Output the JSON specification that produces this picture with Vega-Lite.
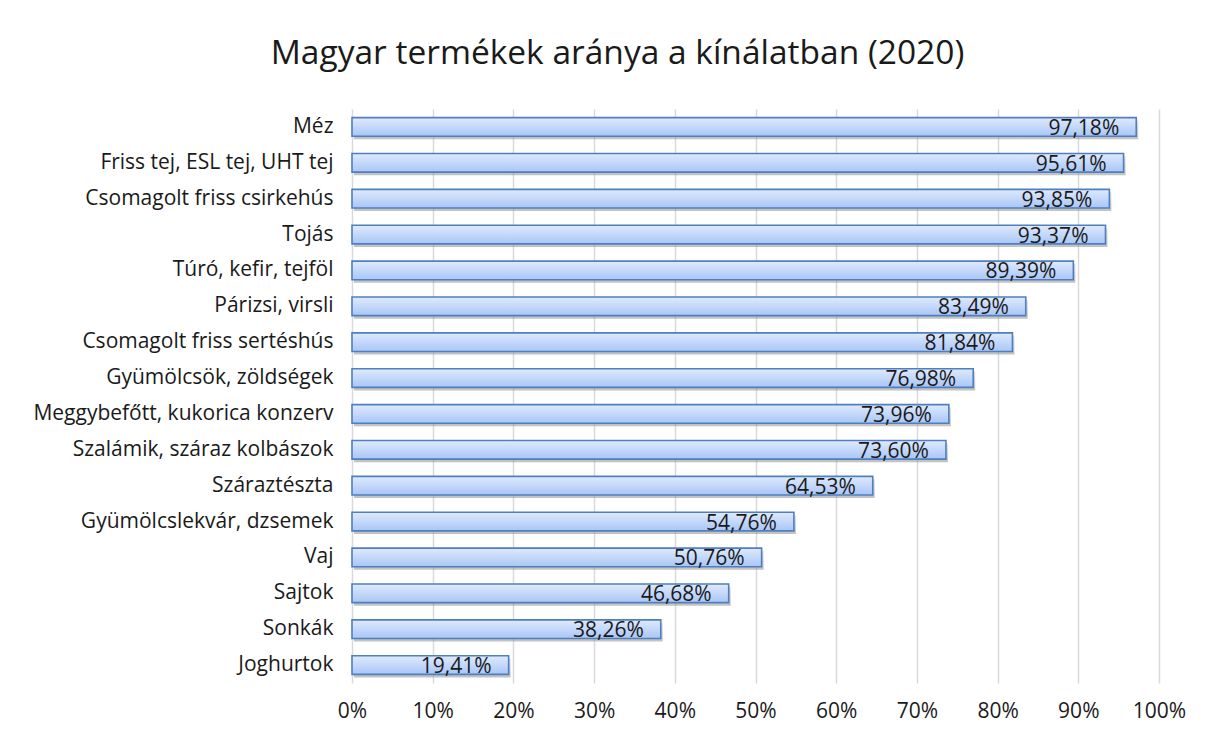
{
  "$schema": "https://vega.github.io/schema/vega-lite/v6.json",
  "autosize": "none",
  "width": 807,
  "height": 574,
  "padding": {"left": 352, "top": 109, "right": 49, "bottom": 54},
  "background": "white",
  "title": {
    "text": "Magyar termékek aránya a kínálatban (2020)",
    "anchor": "middle",
    "dx": -138,
    "offset": 38,
    "font": "Open Sans",
    "fontSize": 33.5,
    "fontWeight": "normal",
    "color": "#1a1a1a"
  },
  "data": {
    "values": [
      {"termek": "Méz", "arany": 0.9718},
      {"termek": "Friss tej, ESL tej, UHT tej", "arany": 0.9561},
      {"termek": "Csomagolt friss csirkehús", "arany": 0.9385},
      {"termek": "Tojás", "arany": 0.9337},
      {"termek": "Túró, kefir, tejföl", "arany": 0.8939},
      {"termek": "Párizsi, virsli", "arany": 0.8349},
      {"termek": "Csomagolt friss sertéshús", "arany": 0.8184},
      {"termek": "Gyümölcsök, zöldségek", "arany": 0.7698},
      {"termek": "Meggybefőtt, kukorica konzerv", "arany": 0.7396},
      {"termek": "Szalámik, száraz kolbászok", "arany": 0.736},
      {"termek": "Száraztészta", "arany": 0.6453},
      {"termek": "Gyümölcslekvár, dzsemek", "arany": 0.5476},
      {"termek": "Vaj", "arany": 0.5076},
      {"termek": "Sajtok", "arany": 0.4668},
      {"termek": "Sonkák", "arany": 0.3826},
      {"termek": "Joghurtok", "arany": 0.1941}
    ]
  },
  "encoding": {
    "y": {
      "field": "termek",
      "type": "nominal",
      "sort": {"field": "arany", "order": "descending"},
      "scale": {"paddingInner": 0.48, "paddingOuter": 0.24},
      "axis": {
        "title": null,
        "ticks": false,
        "domain": false,
        "labelPadding": 19,
        "labelFont": "Open Sans",
        "labelFontSize": 21,
        "labelColor": "#1a1a1a",
        "labelLimit": 400
      }
    },
    "x": {
      "field": "arany",
      "type": "quantitative",
      "scale": {"domain": [0, 1]},
      "axis": {
        "title": null,
        "format": ".0%",
        "values": [0, 0.1, 0.2, 0.3, 0.4, 0.5, 0.6, 0.7, 0.8, 0.9, 1],
        "labelOverlap": false,
        "labelFlush": false,
        "labelAlign": "center",
        "ticks": false,
        "domain": false,
        "grid": true,
        "gridColor": "#d9d9d9",
        "gridWidth": 1.5,
        "labelPadding": 17,
        "labelFont": "Open Sans",
        "labelFontSize": 21,
        "labelColor": "#1a1a1a"
      }
    }
  },
  "layer": [
    {
      "mark": {
        "type": "bar",
        "xOffset": 2,
        "yOffset": 3,
        "fill": {
          "gradient": "linear", "x1": 0, "y1": 0, "x2": 0, "y2": 1,
          "stops": [{"offset": 0, "color": "#c8c8c8"}, {"offset": 1, "color": "#8f8f8f"}]
        },
        "opacity": 0.55
      }
    },
    {
      "mark": {
        "type": "bar",
        "fill": {
          "gradient": "linear", "x1": 0, "y1": 0, "x2": 0, "y2": 1,
          "stops": [{"offset": 0, "color": "#dfeafd"}, {"offset": 1, "color": "#a8c6f7"}]
        },
        "stroke": "#4f7fbf",
        "strokeWidth": 1.6
      }
    },
    {
      "mark": {
        "type": "text",
        "align": "right",
        "baseline": "middle",
        "dx": -17,
        "dy": 2,
        "font": "Open Sans",
        "fontSize": 21,
        "color": "#1a1a1a"
      },
      "encoding": {
        "text": {"field": "arany", "type": "quantitative", "format": ".2%"}
      }
    }
  ],
  "config": {
    "locale": {
      "number": {"decimal": ",", "thousands": " ", "grouping": [3], "currency": ["", " Ft"]}
    },
    "view": {"stroke": null}
  }
}
